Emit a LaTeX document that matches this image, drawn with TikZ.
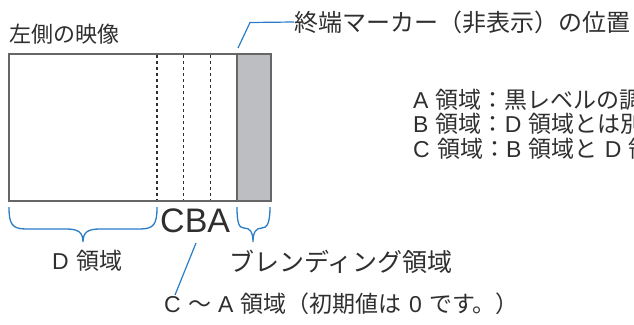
\documentclass[tikz,border=0pt]{standalone}
\usepackage{fontspec}
\setmainfont{Noto Sans CJK JP}[WordSpace=1.4]
\newfontfamily\latn{Liberation Sans}[WordSpace=1.4]
\newcommand{\lt}[1]{{\latn #1}}
\definecolor{txt}{HTML}{2F2F2F}
\definecolor{frame}{HTML}{666666}
\definecolor{greyfill}{HTML}{BDBEC2}
\definecolor{lead}{HTML}{2A7CC7}
\tikzset{
  lbl/.style={inner sep=0pt, anchor=west, text=txt, font=\fontsize{23}{27}\selectfont},
  big/.style={inner sep=0pt, anchor=west, text=txt, font=\latn\fontsize{34}{40}\selectfont},
  leader/.style={draw=lead, line width=1.2pt},
  bracestyle/.style={draw=lead, line width=1.3pt},
  divider/.style={draw=txt, line width=1.2pt, dash pattern=on 3pt off 3pt}
}
\begin{document}
\begin{tikzpicture}[x=1pt,y=-1pt]
\useasboundingbox (0,0) rectangle (634,324);
\clip (0,0) rectangle (634,324);
% image frame
\fill[greyfill] (237,54) rectangle (271,201);
\draw[divider] (157,55) -- (157,200);
\draw[divider] (183.5,55) -- (183.5,200);
\draw[divider] (210.5,55) -- (210.5,200);
\draw[frame, line width=2.5pt] (237,54) -- (237,201);
\draw[frame, line width=2.5pt] (9,54) rectangle (271,201);
% labels
\node[lbl, font=\fontsize{22}{26}\selectfont] (left) at (9,34) {左側の映像};
\node[lbl, font=\fontsize{24}{28}\selectfont] (marker) at (294,22) {終端マーカー（非表示）の位置};
\coordinate (mk0) at (238,48);
\coordinate (mk1) at (250,22.5);
\draw[leader] (mk0) -- (mk1) -- (marker.west);
\node[lbl] (la) at (413,100) {\lt{A} 領域：黒レベルの調整};
\node[lbl] (lb) at (413,124) {\lt{B} 領域：\lt{D} 領域とは別の};
\node[lbl] (lc) at (413,148.5) {\lt{C} 領域：\lt{B} 領域と \lt{D} 領域};
\node[big] (cba) at (160,221) {CBA};
% braces
\draw[bracestyle] (9,207) .. controls (9,224) and (12,229) .. (26,229) -- (66,229)
   .. controls (78,229) and (83,232) .. (83,242)
   .. controls (83,232) and (88,229) .. (100,229) -- (140,229)
   .. controls (154,229) and (157,224) .. (157,207);
\draw[bracestyle] (237,207) .. controls (237,223) and (239,228) .. (244,228)
   .. controls (250,228) and (253,232) .. (253,242)
   .. controls (253,232) and (256,228) .. (262,228)
   .. controls (267,228) and (270,223) .. (270,207);
\node[lbl] (dl) at (52,261) {\lt{D} 領域};
\node[lbl, font=\fontsize{25}{29}\selectfont] (bl) at (229,262) {ブレンディング領域};
\node[lbl] (ca) at (164,304) {\lt{C} ～ \lt{A} 領域（初期値は \lt{0} です。）};
\coordinate (ca0) at (196,243);
\coordinate (ca1) at (175,295);
\draw[leader] (ca0) -- (ca1);
\end{tikzpicture}
\end{document}
